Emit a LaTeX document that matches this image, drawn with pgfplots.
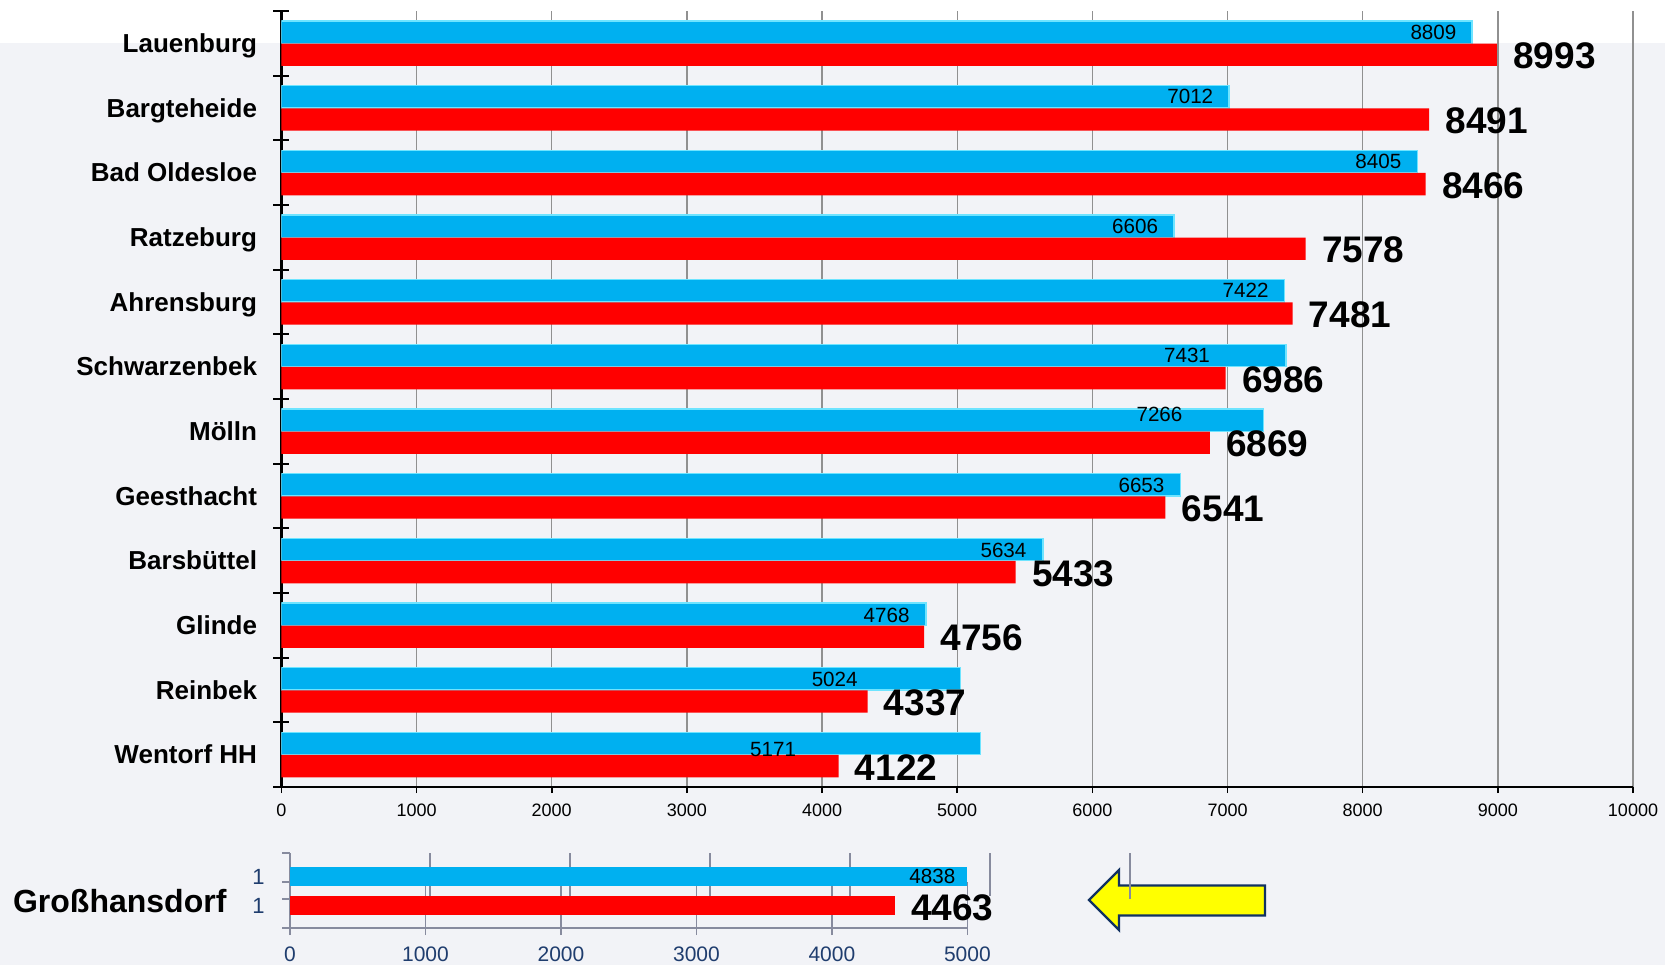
\documentclass[border=0pt]{standalone}
\usepackage{pgfplots}
\pgfplotsset{compat=1.18}
\usepackage{fontspec}
\setmainfont{Liberation Sans}
\definecolor{bgray}{HTML}{F2F3F7}
\definecolor{barblue}{HTML}{00B0F0}
\definecolor{barrim}{RGB}{110,228,255}
\definecolor{barred}{HTML}{FF0000}
\definecolor{gridgray}{HTML}{909090}
\definecolor{slate}{HTML}{878B9E}
\definecolor{navytext}{HTML}{1F3D6E}
\definecolor{arrowyellow}{HTML}{FFFF00}
\definecolor{arrownavy}{HTML}{123262}
\pgfplotsset{/pgf/number format/.cd, 1000 sep={}, assume math mode=true}

\newcommand{\bigval}{\fontsize{18.5}{19}\selectfont\bfseries}
\newcommand{\smallval}{\fontsize{10.3}{11}\selectfont}

\begin{document}
\begin{tikzpicture}
\fill[bgray] (0,0) rectangle (832.5pt,-482.5pt);
\fill[white] (0,0) rectangle (832.5pt,-21.5pt);

% main chart
\begin{axis}[
  at={(140.7pt,-393.5pt)}, anchor=south west,
  scale only axis, width=675.8pt, height=388pt,
  xmin=0, xmax=10000, ymin=-0.5, ymax=11.5, y dir=reverse,
  axis x line*=bottom, axis y line*=left,
  axis line style={-, black, line width=1.2pt},
  xtick={0,1000,...,10000}, scaled x ticks=false,
  xticklabel style={font=\fontsize{9}{9}\selectfont, inner sep=0pt, yshift=-5.2pt},
  xmajorgrids, grid style={gridgray, line width=0.7pt},
  major x tick style={black, line width=0.8pt},
  tick align=outside, major tick length=3pt,
  ytick={0,...,11},
  yticklabels={Lauenburg, Bargteheide, Bad Oldesloe, Ratzeburg, Ahrensburg, Schwarzenbek, Mölln, Geesthacht, Barsbüttel, Glinde, Reinbek, Wentorf HH},
  yticklabel style={font=\fontsize{13}{13}\selectfont\bfseries, inner sep=0pt, anchor=base east, xshift=-9pt, yshift=-4.6pt},
  major y tick style={draw=none},
  minor ytick={-0.5,0.5,...,11.5},
  minor y tick style={black, line width=1.1pt, xshift=4pt},
  minor tick length=8pt,
]
\addplot[xbar, bar width=0.345, bar shift=-0.173, fill=barblue, draw=barrim, line width=0.8pt]
  coordinates {(8809,0) (7012,1) (8405,2) (6606,3) (7422,4) (7431,5) (7266,6) (6653,7) (5634,8) (4768,9) (5024,10) (5171,11)};
\addplot[xbar, bar width=0.345, bar shift=0.177, fill=barred, draw=none,
  point meta=x, nodes near coords,
  nodes near coords style={anchor=west, inner sep=0pt, xshift=8pt, yshift=-6.3pt, font=\bigval, text=black}]
  coordinates {(8993,0) (8491,1) (8466,2) (7578,3) (7481,4) (6986,5) (6869,6) (6541,7) (5433,8) (4756,9) (4337,10) (4122,11)};
% small value labels inside the blue bars
\addplot[draw=none, no marks, nodes near coords, point meta=explicit symbolic,
  nodes near coords style={anchor=east, inner sep=0pt, font=\smallval, text=black}]
  coordinates {(8696,-0.175)[8809] (6897,0.825)[7012] (8288,1.825)[8405] (6489,2.825)[6606]
    (7306,3.825)[7422] (6873,4.827)[7431] (6669,5.733)[7266] (6536,6.84)[6653]
    (5515,7.84)[5634] (4650,8.845)[4768] (4266,9.83)[5024] (3810,10.923)[5171]};
\end{axis}

% Grosshansdorf, lower scale (red bar, axis and tick labels)
\begin{axis}[
  at={(145pt,-464pt)}, anchor=south west,
  scale only axis, width=338.7pt, height=37.5pt,
  xmin=0, xmax=5000, ymin=853, ymax=928, y dir=reverse, clip=false,
  axis x line*=bottom, axis y line*=left,
  axis line style={-, slate, line width=0.65pt},
  xtick={0,1000,...,5000}, scaled x ticks=false,
  xticklabel style={font=\fontsize{10.5}{10.5}\selectfont, text=navytext, inner sep=0pt, yshift=-5.5pt},
  major x tick style={slate, line width=0.7pt},
  tick align=outside, major tick length=3.5pt,
  ytick={876.5,905.5}, yticklabels={1,1},
  yticklabel style={font=\fontsize{11}{11}\selectfont, text=navytext, inner sep=0pt, xshift=-9pt},
  major y tick style={draw=none},
  minor ytick={853,882,899,928},
  minor y tick style={slate, line width=0.65pt},
  minor tick length=4pt,
]
\pgfplotsinvokeforeach{1000,2000,3000,4000,5000}{
  \draw[slate, line width=0.7pt] (axis cs:#1,882) -- (axis cs:#1,928);
}
\addplot[xbar, bar width=19, bar shift=0, fill=barred, draw=none,
  point meta=x, nodes near coords,
  nodes near coords style={anchor=west, inner sep=0pt, xshift=8pt, yshift=-1pt, font=\bigval, text=black}]
  coordinates {(4463,905.5)};
\end{axis}

% Grosshansdorf, upper scale (blue bar drawn on a slightly wider scale)
\begin{axis}[
  at={(145pt,-464pt)}, anchor=south west,
  scale only axis, width=338.7pt, height=37.5pt,
  xmin=0, xmax=4838.6, ymin=853, ymax=928, y dir=reverse, clip=false,
  hide axis,
]
\pgfplotsinvokeforeach{1000,2000,3000,4000,5000}{
  \draw[slate, line width=0.7pt] (axis cs:#1,853) -- (axis cs:#1,896);
}
\addplot[xbar, bar width=19, bar shift=0, fill=barblue, draw=none]
  coordinates {(4838,876.5)};
\addplot[draw=none, no marks, nodes near coords, point meta=explicit symbolic,
  nodes near coords style={anchor=east, inner sep=0pt, font=\smallval, text=black}]
  coordinates {(4755,876)[4838]};
\end{axis}

\node[anchor=west, inner sep=0pt, font=\fontsize{16}{16}\selectfont\bfseries] at (6.35pt,-450.75pt) {Großhansdorf};

\draw[fill=arrowyellow, draw=arrownavy, line width=1.2pt, line join=miter]
  (544.5pt,-450pt) -- (559.5pt,-435pt) -- (559.5pt,-442.75pt) -- (632.5pt,-442.75pt)
  -- (632.5pt,-457.75pt) -- (559.5pt,-457.75pt) -- (559.5pt,-465pt) -- cycle;
\draw[slate, line width=0.7pt] (565pt,-426.5pt) -- (565pt,-449.5pt);

\pgfresetboundingbox
\useasboundingbox (0,0) rectangle (832.5pt,-482.5pt);
\end{tikzpicture}
\end{document}
